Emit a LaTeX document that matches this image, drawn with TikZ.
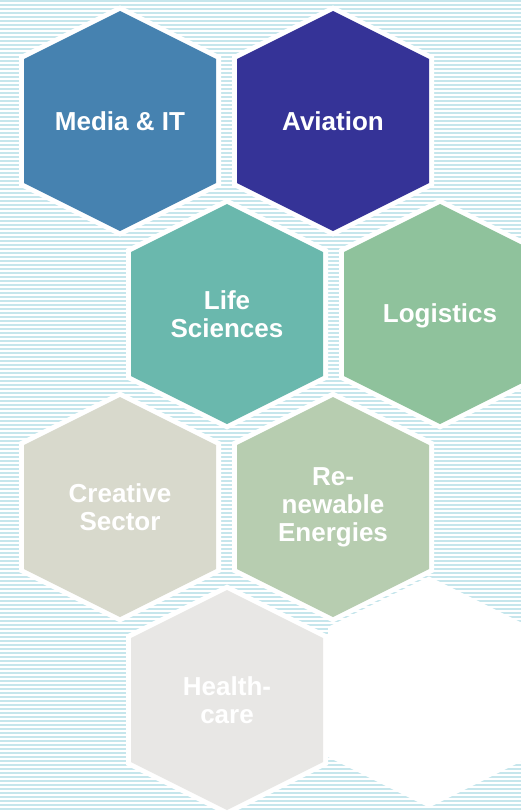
\documentclass[tikz,border=0pt]{standalone}
\usepackage{fontspec}
\setmainfont{Liberation Sans}
\definecolor{stripe}{RGB}{198,230,236}
\definecolor{cmedia}{RGB}{70,130,176}
\definecolor{caviation}{RGB}{53,51,151}
\definecolor{clife}{RGB}{106,184,173}
\definecolor{clogistics}{RGB}{143,194,156}
\definecolor{ccreative}{RGB}{216,217,204}
\definecolor{crenew}{RGB}{183,205,176}
\definecolor{chealth}{RGB}{232,231,229}
\newcommand\hexat[1]{(#1) ++(0,-110) -- ++(96,48) -- ++(0,124) -- ++(-96,48) -- ++(-96,-48) -- ++(0,-124) -- cycle}
\tikzset{
  hexborder/.style={draw=white, line width=10pt, line join=miter},
  hexlabel/.style={text=white, font=\bfseries\fontsize{26}{28}\selectfont, align=center, inner sep=0pt},
}
\begin{document}
\begin{tikzpicture}[x=1pt,y=-1pt]
\useasboundingbox (0,0) rectangle (521,811);
\clip (0,0) rectangle (521,811);
\fill[white] (0,0) rectangle (521,811);
\foreach \yy in {0,4,...,808} \fill[stripe] (0,\yy) rectangle (521,\yy+2);
% centres
\coordinate (media) at (120,121);
\coordinate (aviation) at (333,121);
\coordinate (life) at (227,314);
\coordinate (logistics) at (440,314);
\coordinate (creative) at (120,507);
\coordinate (renew) at (333,507);
\coordinate (health) at (227,700);
\coordinate (blank) at (429,692);
% white borders
\foreach \c in {media,aviation,life,logistics,creative,renew,health,blank}
  \draw[hexborder] \hexat{\c};
% fills
\fill[cmedia] \hexat{media};
\fill[caviation] \hexat{aviation};
\fill[clife] \hexat{life};
\fill[clogistics] \hexat{logistics};
\fill[ccreative] \hexat{creative};
\fill[crenew] \hexat{renew};
\fill[chealth] \hexat{health};
\fill[white] \hexat{blank};
% labels
\node[hexlabel] (tmedia) at (media) {Media \& IT};
\node[hexlabel] (taviation) at (aviation) {Aviation};
\node[hexlabel] (tlife) at (life) {Life\\Sciences};
\node[hexlabel] (tlogistics) at ([yshift=-2]logistics) {Logistics};
\node[hexlabel] (tcreative) at (creative) {Creative\\Sector};
\node[hexlabel] (trenew) at (renew) {Re-\\newable\\Energies};
\node[hexlabel] (thealth) at (health) {Health-\\care};
\end{tikzpicture}
\end{document}
